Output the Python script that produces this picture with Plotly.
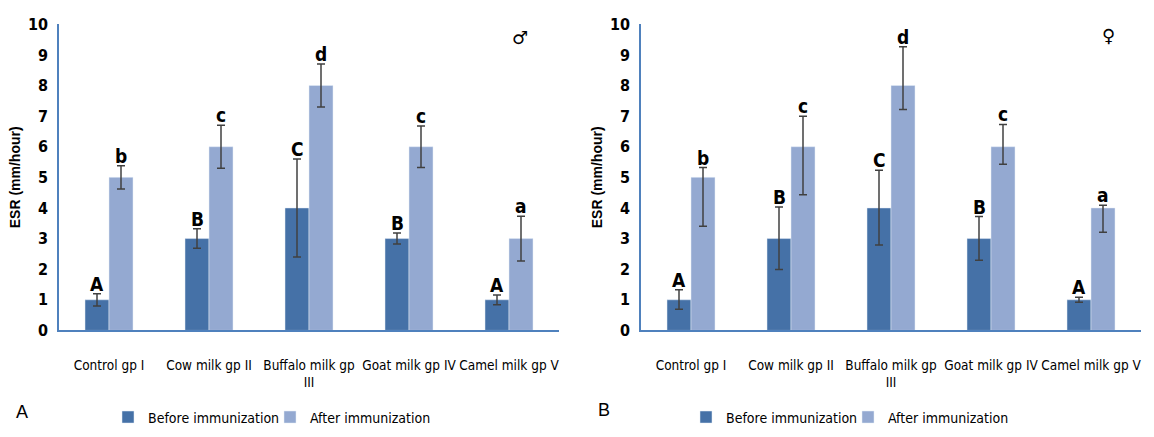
import plotly.graph_objects as go

categories = ["Control gp I", "Cow milk gp II", "Buffalo milk gp<br>III", "Goat milk gp IV", "Camel milk gp V"]

# Panel A (male)
a_before = [1, 3, 4, 3, 1]
a_before_err = [0.2, 0.32, 1.6, 0.18, 0.16]
a_after = [5, 6, 8, 6, 3]
a_after_err = [0.38, 0.7, 0.7, 0.68, 0.73]
a_before_letters = ["A", "B", "C", "B", "A"]
a_after_letters = ["b", "c", "d", "c", "a"]

# Panel B (female)
b_before = [1, 3, 4, 3, 1]
b_before_err_up = [0.33, 1.03, 1.23, 0.72, 0.08]
b_before_err_dn = [0.31, 1.01, 1.21, 0.71, 0.08]
b_after = [5, 6, 8, 6, 4]
b_after_err_up = [0.32, 1.0, 1.27, 0.73, 0.09]
b_after_err_dn = [1.6, 1.57, 0.78, 0.57, 0.79]
b_before_letters = ["A", "B", "C", "B", "A"]
b_after_letters = ["b", "c", "d", "c", "a"]

C_BEFORE = "#4571A7"
C_AFTER = "#94A9D1"
ERR_C = "#404040"
FONT = "DejaVu Sans Condensed, Liberation Sans Narrow, Roboto Condensed, Liberation Sans, sans-serif"

W, H = 1154, 437
xs = list(range(len(categories)))

fig = go.Figure()

def err(up, dn=None):
    d = dict(type="data", array=up, visible=True, color=ERR_C, thickness=1.5, width=4)
    if dn is not None:
        d["symmetric"] = False
        d["arrayminus"] = dn
    return d

fig.add_trace(go.Bar(x=xs, y=a_before, name="Before immunization", marker_color=C_BEFORE,
                     error_y=err(a_before_err), xaxis="x", yaxis="y", legend="legend", offsetgroup="b"))
fig.add_trace(go.Bar(x=xs, y=a_after, name="After immunization", marker_color=C_AFTER,
                     error_y=err(a_after_err), xaxis="x", yaxis="y", legend="legend", offsetgroup="a"))
fig.add_trace(go.Bar(x=xs, y=b_before, name="Before immunization", marker_color=C_BEFORE,
                     error_y=err(b_before_err_up, b_before_err_dn), xaxis="x2", yaxis="y2", legend="legend2", offsetgroup="b"))
fig.add_trace(go.Bar(x=xs, y=b_after, name="After immunization", marker_color=C_AFTER,
                     error_y=err(b_after_err_up, b_after_err_dn), xaxis="x2", yaxis="y2", legend="legend2", offsetgroup="a"))

bargap = 0.52
half = (1 - bargap) / 4  # center offset of each bar within its group

annotations = []
def letters(vals, ups, labs, xref, yref, off):
    for i, (v, u, t) in enumerate(zip(vals, ups, labs)):
        annotations.append(dict(x=i + off, y=v + u, xref=xref, yref=yref, text=t, showarrow=False,
                                yanchor="bottom", yshift=-3,
                                font=dict(family=FONT, size=19, color="#000000", weight="bold")))

letters(a_before, a_before_err, a_before_letters, "x", "y", -half)
letters(a_after, a_after_err, a_after_letters, "x", "y", half)
letters(b_before, b_before_err_up, b_before_letters, "x2", "y2", -half)
letters(b_after, b_after_err_up, b_after_letters, "x2", "y2", half)

def paper_text(px, py, t, fam, size):
    return dict(x=px / W, y=1 - py / H, xref="paper", yref="paper", text=t, showarrow=False,
                xanchor="center", yanchor="middle", font=dict(family=fam, size=size, color="#000000"))

annotations += [
    paper_text(520, 30, "♂", "DejaVu Sans", 18),
    paper_text(1108, 28, "♀", "DejaVu Sans", 18),
    paper_text(22, 421, "A", "Liberation Sans", 18),
    paper_text(604, 419, "B", "Liberation Sans", 18),
]

axis_line = "#4F81BD"
xa = dict(range=[-0.5, 4.5], tickvals=xs, ticktext=categories, showgrid=False, zeroline=False,
          showline=True, linecolor=axis_line, linewidth=2, ticks="", tickangle=0,
          ticklabelstandoff=21,
          tickfont=dict(family=FONT, size=13.5, color="#000000"), fixedrange=True)
ya = dict(range=[0, 10], dtick=1, showgrid=False, zeroline=False, showline=True, linecolor=axis_line,
          linewidth=1.5, ticks="", ticklabelstandoff=6,
          tickfont=dict(family=FONT, size=16, color="#000000", weight="bold"),
          title=dict(text="<b>ESR (mm/hour)</b>", font=dict(family="Liberation Sans", size=14, color="#000000"),
                     standoff=4))

ydom = [(H - 336) / H, (H - 16) / H]
leg = dict(orientation="h", xanchor="left", yanchor="middle",
           font=dict(family=FONT, size=14, color="#000000"), itemwidth=30, traceorder="normal",
           entrywidth=117, entrywidthmode="pixels", bgcolor="rgba(0,0,0,0)")
fig.update_layout(
    width=W, height=H, margin=dict(l=0, r=0, t=0, b=0),
    paper_bgcolor="white", plot_bgcolor="white",
    barmode="group", bargap=bargap, bargroupgap=0,
    xaxis=dict(xa, domain=[59 / W, 559 / W], anchor="y"),
    yaxis=dict(ya, domain=ydom, anchor="x"),
    xaxis2=dict(xa, domain=[641 / W, 1141 / W], anchor="y2"),
    yaxis2=dict(ya, domain=ydom, anchor="x2"),
    legend=dict(leg, x=108 / W, y=1 - 427 / H),
    legend2=dict(leg, x=686 / W, y=1 - 427 / H),
    annotations=annotations,
    showlegend=True,
)

fig.write_html("out.html", config={"displayModeBar": False},
               post_script="document.body.style.margin='0';")
